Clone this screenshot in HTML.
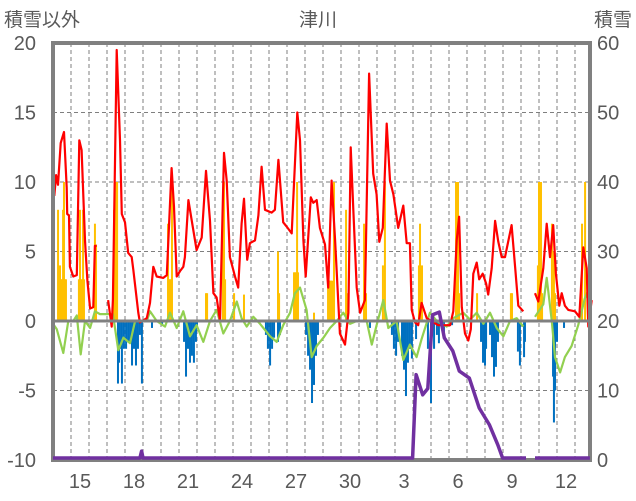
<!DOCTYPE html>
<html><head><meta charset="utf-8"><style>
html,body{margin:0;padding:0;background:#fff;}
svg{display:block;font-family:"Liberation Sans","Noto Sans CJK JP",sans-serif;}
</style></head><body>
<svg id="chart" width="636" height="501" viewBox="0 0 636 501">
<g id="grid"></g>
<g id="bars"></g>
<g id="lines"></g>
<g id="axes"></g>
<g id="snowlayer"></g>
<text x="4" y="26" font-size="19" fill="#595959">積雪以外</text>
<text x="318" y="26" font-size="19" fill="#595959" text-anchor="middle">津川</text>
<text x="632" y="26" font-size="19" fill="#595959" text-anchor="end">積雪</text>
</svg>
<script>
const leftTicks=[20,15,10,5,0,-5,-10];
const rightTicks=[60,50,40,30,20,10,0];
const xLabels=["15","18","21","24","27","30","3","6","9","12"];
const xLabelDays=[1.5,4.5,7.5,10.5,13.5,16.5,19.5,22.5,25.5,28.5];
const redT=[0.07,0.17,0.28,0.43,0.61,0.76,0.79,0.89,0.94,1.13,1.32,1.46,1.59,1.78,1.91,2.06,2.24,2.33,2.43,null,3.06,3.26,3.33,3.54,3.72,3.82,4.0,4.18,4.37,4.46,4.74,4.83,5.21,5.39,5.57,5.76,6.13,6.32,6.59,6.72,6.87,7.06,7.24,7.33,7.52,7.71,7.98,8.26,8.5,8.72,8.91,9.09,9.28,9.5,9.65,9.83,10.11,10.29,10.48,10.61,10.79,10.94,11.22,11.41,11.59,11.78,12.15,12.33,12.52,12.79,12.98,13.26,13.57,13.72,13.91,14.04,14.18,14.32,14.46,14.65,14.83,15.11,15.29,15.48,15.67,15.94,16.22,16.41,16.54,16.68,16.87,17.06,17.33,17.56,17.79,17.98,18.13,18.32,18.54,18.72,18.91,19.18,19.46,19.65,19.83,19.93,20.11,20.29,20.48,20.76,21.4,22.06,22.24,22.43,22.56,22.71,22.89,23.07,23.21,23.35,23.54,23.68,23.87,24.06,24.18,24.37,24.56,24.74,24.93,25.11,25.48,25.67,25.85,26.13,null,26.78,26.96,27.24,27.43,27.61,27.79,27.94,28.13,28.26,28.44,28.63,29.0,29.24,29.46,29.65,29.74,29.93];
const redV=[9.0,10.5,9.8,12.8,13.6,9.6,7.7,7.6,3.9,3.2,3.3,13.0,12.3,5.8,2.9,0.9,1.0,5.4,5.4,null,1.5,-0.4,1.5,19.5,13,7.7,7.1,4.9,4.6,3.7,0.6,-0.1,0.2,1.3,3.9,3.2,3.1,3.3,11,8.2,3.2,3.6,3.9,4.6,8.7,7.2,5.1,6.0,10.8,7.2,2.0,1.7,0,12.1,10.1,4.6,3.2,2.4,7.0,8.8,4.4,5.6,5.8,7.6,11.1,8.0,7.8,8,11.6,7.1,6.8,6.3,15.0,13,5.8,3.2,6.0,8.9,8.5,8.7,6.7,5.5,2.4,10.1,5.8,-0.9,-1.7,0.6,12.5,8.2,2.4,0.6,1.5,17.8,10.6,9.1,5.7,6.7,14.2,10.1,9.1,6.7,8.3,5.6,5.6,0.8,-0.1,-0.3,1.3,0.2,-0.3,-0.3,0.7,5.8,7.5,1,-0.9,-1.4,-0.6,3.4,4.2,3.0,3.4,2.7,1.9,3.8,7.2,5.7,4.6,4.6,6.9,3.9,1.1,0.7,null,2.0,1.4,3.8,7.0,4.6,6.9,3.4,1.1,2.0,1.1,0.8,0.7,0.3,5.3,3.8,-0.4,1.5];
const greenT=[0.0,0.21,0.57,0.85,1.13,1.32,1.54,1.78,2.06,2.33,2.61,3.33,3.63,3.91,4.28,4.56,5.21,5.39,5.76,6.22,6.5,6.87,7.24,7.61,7.98,8.35,8.72,9.09,9.46,9.83,10.21,10.48,10.76,11.13,11.5,12.06,12.43,12.79,13.17,13.44,13.72,14.09,14.37,14.65,15.02,15.39,15.76,16.13,16.5,16.87,17.43,17.71,17.98,18.35,18.63,19.09,19.46,19.83,20.2,20.48,20.94,21.32,21.87,22.24,22.79,23.17,23.54,23.91,24.28,24.65,25.02,25.39,25.76,26.13,null,26.78,27.24,27.43,27.71,27.89,28.17,28.44,28.81,29.18,29.54,29.83];
const greenV=[-0.2,-0.6,-2.3,0,0,0.4,-2.4,0,-0.5,0.7,0.5,0.5,-2.1,-1.2,-1.6,0,0,0.7,0,-0.4,0.6,-0.5,0.7,-1.1,-0.3,-1.5,0,0.8,-0.9,0,1.4,0.2,-0.4,0.3,-0.2,-1.1,-1.5,-0.3,0.6,2,2.4,0.8,-2.6,-1.8,-1.2,-0.5,0,0.6,-0.2,0,0,-1.7,-0.3,1.5,-0.5,0,-2.8,-1.7,-2.6,-1.3,0.6,0,-0.4,0.2,0.6,0.1,0.6,-0.2,0.6,-0.5,-1.1,0,0.2,-0.4,null,0.3,1.2,3.1,0,-2.6,-3.7,-2.6,-1.8,-0.3,1.6,2.5];
const snowT=[0,4.83,4.92,5.0,19.98,20.17,20.54,20.82,21.09,21.46,21.74,22.21,22.57,23.13,23.68,24.24,24.71,24.98,26.28,null,26.78,29.83];
const snowV=[0,0,1,0,0,12,9.1,10,20.6,21,17.3,15.4,12.5,11.5,7.2,4.8,1.9,0,0,null,0,0];
const orangeT=[0.28,0.39,0.44,0.5,0.56,0.61,0.67,0.72,1.44,1.5,1.56,1.61,1.67,1.72,2.33,2.39,3.39,3.44,3.5,3.56,6.39,6.44,6.5,6.56,6.61,8.5,8.56,9.44,9.5,9.56,10.06,10.61,12.5,12.56,13.39,13.44,13.5,13.56,13.61,14.5,15.28,15.33,15.39,15.44,15.5,15.61,16.28,16.33,17.28,17.39,18.33,18.44,20.33,20.39,20.5,22.39,22.44,22.5,22.56,23.56,25.44,25.5,26.94,27.0,27.06,27.11,27.17,27.72,27.83,27.89,29.39,29.56];
const orangeV=[8,4,3,3,8,10,3,3,3,8,3,3,8,3,7,5.5,8,3,10,10,7,3,3,3,10,2,2,8,10,3,2,1.9,5,2,3.5,3.5,3.5,10,3.5,0.6,2.9,2.9,2.9,2.9,2.9,10,8,2,7,2,4,10,4,7,4,10,10,10,2,2,2,2,4,10,10,10,2,7,5,2,7,10];
const blueT=[3.61,3.67,3.72,3.83,3.94,4.06,4.17,4.28,4.39,4.5,4.61,4.72,4.83,4.94,5.5,6.06,7.28,7.39,7.5,7.61,7.72,7.83,7.94,8.0,11.83,11.94,12.06,12.17,12.28,12.5,12.61,14.06,14.17,14.28,14.39,14.5,14.61,14.72,17.61,18.83,18.94,19.06,19.17,19.39,19.5,19.61,19.72,19.83,19.94,20.17,20.83,21.0,21.17,21.33,21.44,21.72,22.17,23.78,23.89,24.0,24.06,24.28,24.39,24.5,24.61,24.72,25.83,25.94,26.17,26.22,27.78,27.83,27.89,28.0,28.39];
const blueV=[-4.5,-3,-2,-4.5,-2,-2,-1.5,-1.5,-3.2,-2,-3.2,-2,-1,-4.5,-0.5,-0.3,-1.5,-4,-2,-3,-2.5,-3,-1.5,-0.5,-1,-2,-3.2,-2,-1.2,-1.5,-1,-1,-2.5,-3.5,-5.9,-4.6,-2.5,-1,-0.5,-1,-2,-2.5,-1.5,-2.5,-3.5,-5.4,-3,-2,-2.7,-1.3,-2,-5.9,-2,-1,-1.6,-0.8,-0.3,-1.5,-3,-3.2,-2,-1,-2.6,-4,-3.3,-1.5,-2.2,-3.2,-2.6,-1.5,-4,-7.3,-5,-1.5,-0.5];

const X0=53,X1=590,Y0=43,Y1=460,DAYPX=18;
const NS='http://www.w3.org/2000/svg';
function xs(t){return X0+t*DAYPX;}
function yl(v){return Y1-(v+10)/30*(Y1-Y0);}
function yr(v){return Y1-v/60*(Y1-Y0)-2;}
function mk(tag,attrs,parent){const e=document.createElementNS(NS,tag);for(const k in attrs)e.setAttribute(k,attrs[k]);parent.appendChild(e);return e;}
const gridG=document.getElementById('grid'),barsG=document.getElementById('bars'),linesG=document.getElementById('lines'),axesG=document.getElementById('axes'),topG=document.getElementById('snowlayer');

for(let d=1;d<30;d++){
  const x=xs(d);
  const l=mk('line',{x1:x,x2:x,y1:Y0,y2:Y1,stroke:'#7f7f7f','stroke-width':1,'stroke-dasharray':'4,3'},gridG);
  
  
}
leftTicks.forEach(v=>{
  const y=yl(v);
  if(v!==20&&v!==-10&&v!==0){
    const l=mk('line',{x1:X0,x2:X1,y1:y,y2:y,stroke:'#7f7f7f','stroke-width':1,'stroke-dasharray':'4,3'},gridG);
    
    
  }
  const t=mk('text',{x:36,y:y+7,'font-size':20,fill:'#595959','text-anchor':'end'},axesG);
  t.textContent=v;
  
  
});
rightTicks.forEach(v=>{
  const t=mk('text',{x:597,y:Y1-v/60*(Y1-Y0)+7,'font-size':20,fill:'#595959'},axesG);
  t.textContent=v;
  
  
});
xLabels.forEach((s,i)=>{
  const t=mk('text',{x:xs(xLabelDays[i]),y:488,'font-size':20,fill:'#595959','text-anchor':'middle'},axesG);
  t.textContent=s;
  
  
});

orangeT.forEach((t,i)=>{
  const y=yl(orangeV[i]);
  const r=mk('rect',{x:xs(t)-1,y:y,width:2,height:yl(0)-y,fill:'#FFC000'},barsG);
  
  
});
blueT.forEach((t,i)=>{
  const y=yl(blueV[i]);
  const r=mk('rect',{x:xs(t)-1,y:yl(0),width:2,height:y-yl(0),fill:'#0070C0'},barsG);
  
  
});

function pathFrom(T,V,yf){
  let d='',pen=false;
  T.forEach((t,i)=>{
    if(t===null||V[i]===null){pen=false;return;}
    d+=(pen?'L':'M')+xs(t).toFixed(1)+','+yf(V[i]).toFixed(1)+' ';
    pen=true;
  });
  return d;
}
const gLine=mk('path',{d:pathFrom(greenT,greenV,yl),fill:'none',stroke:'#92D050','stroke-width':2.2,'stroke-linejoin':'round'},linesG);


const rLine=mk('path',{d:pathFrom(redT,redV,yl),fill:'none',stroke:'#FF0000','stroke-width':2.2,'stroke-linejoin':'round'},linesG);



const zLine=mk('line',{x1:X0,x2:X1,y1:yl(0),y2:yl(0),stroke:'#808080','stroke-width':3},axesG);


const frame=mk('rect',{x:X0,y:Y0,width:X1-X0,height:Y1-Y0,fill:'none',stroke:'#808080','stroke-width':4},axesG);



const pLine=mk('path',{d:pathFrom(snowT,snowV,yr),fill:'none',stroke:'#7030A0','stroke-width':3.5,'stroke-linejoin':'round'},topG);


</script>
</body></html>
